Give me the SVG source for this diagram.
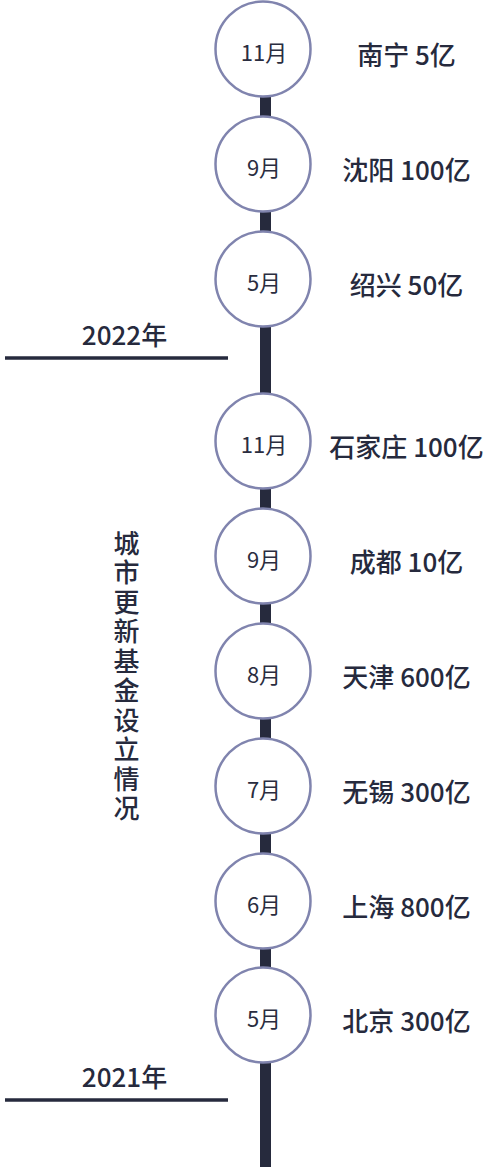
<svg xmlns="http://www.w3.org/2000/svg" width="487" height="1167" viewBox="0 0 487 1167">
<style>
text{font-family:"Noto Sans CJK SC","Noto Sans",sans-serif;fill:#262a3d}
.node circle{fill:#fff;stroke:#8084ae;stroke-width:2.5}
.m{font-size:22px;text-anchor:middle;fill:#2a2d40}
.l{font-size:26px;text-anchor:middle;font-weight:500}
.y{font-size:26px;text-anchor:middle;font-weight:500}
.v{font-size:26px;writing-mode:vertical-rl;letter-spacing:3.5px;font-weight:500}
</style>
<rect width="487" height="1167" fill="#fff"/>
<g id="connectors">
<line x1="265.5" y1="90" x2="265.5" y2="1167" stroke="#262a3d" stroke-width="11"/>
<line x1="5" y1="358" x2="228" y2="358" stroke="#262a3d" stroke-width="3.5"/>
<line x1="5" y1="1100" x2="228" y2="1100" stroke="#262a3d" stroke-width="3.5"/>
</g>
<g id="year2022"><text class="y" x="124.5" y="345">2022年</text></g>
<g id="year2021"><text class="y" x="124.5" y="1087">2021年</text></g>
<g id="title"><text class="v" x="126.5" y="530">城市更新基金设立情况</text></g>
<g id="n1" class="node"><circle cx="263" cy="49" r="47.5"/><text class="m" x="264" y="60.5">11月</text><text class="l" x="406.5" y="65">南宁 5亿</text></g>
<g id="n2" class="node"><circle cx="263" cy="164" r="47.5"/><text class="m" x="264" y="175.5">9月</text><text class="l" x="406.5" y="180">沈阳 100亿</text></g>
<g id="n3" class="node"><circle cx="263" cy="279" r="47.5"/><text class="m" x="264" y="290.5">5月</text><text class="l" x="406.5" y="295">绍兴 50亿</text></g>
<g id="n4" class="node"><circle cx="263" cy="441" r="47.5"/><text class="m" x="264" y="452.5">11月</text><text class="l" x="406.5" y="457">石家庄 100亿</text></g>
<g id="n5" class="node"><circle cx="263" cy="556" r="47.5"/><text class="m" x="264" y="567.5">9月</text><text class="l" x="406.5" y="572">成都 10亿</text></g>
<g id="n6" class="node"><circle cx="263" cy="671" r="47.5"/><text class="m" x="264" y="682.5">8月</text><text class="l" x="406.5" y="687">天津 600亿</text></g>
<g id="n7" class="node"><circle cx="263" cy="786" r="47.5"/><text class="m" x="264" y="797.5">7月</text><text class="l" x="406.5" y="802">无锡 300亿</text></g>
<g id="n8" class="node"><circle cx="263" cy="901" r="47.5"/><text class="m" x="264" y="912.5">6月</text><text class="l" x="406.5" y="917">上海 800亿</text></g>
<g id="n9" class="node"><circle cx="263" cy="1015" r="47.5"/><text class="m" x="264" y="1026.5">5月</text><text class="l" x="406.5" y="1031">北京 300亿</text></g>
</svg>
